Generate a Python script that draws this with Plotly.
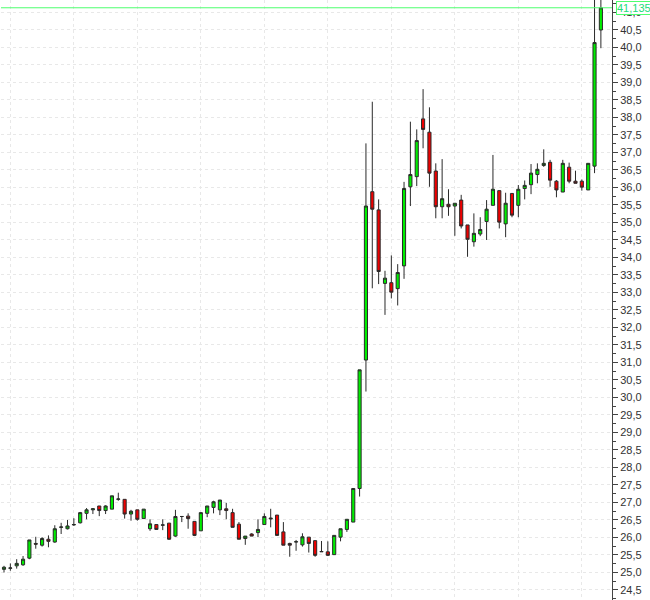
"""
plot.py
-------
Daily candlestick chart with the last price marked on the right axis.
"""

import plotly.graph_objects as go

# session index (one candle per trading day)
session = list(range(1, 96))

open_ = [
    25.09, 25.12, 25.19, 25.22, 25.41, 25.83, 25.78, 25.95, 25.87, 26.29,
    26.25, 26.36, 26.42, 26.69, 26.79, 26.90, 26.77, 26.81, 27.09, 27.09,
    26.67, 26.79, 26.54, 26.25, 26.37, 26.35, 26.41, 26.04, 26.60, 26.61,
    26.46, 26.19, 26.69, 26.86, 26.79, 26.82, 26.71, 26.38, 25.97, 26.10,
    26.14, 26.37, 26.53, 26.64, 26.16, 25.83, 25.87, 25.79, 26.01, 25.91,
    25.59, 25.59, 25.51, 26.01, 26.23, 26.44, 27.40, 31.07, 35.88, 35.36,
    33.26, 33.28, 33.11, 33.76, 36.02, 36.31, 37.96, 37.58, 36.47, 35.45,
    35.52, 35.47, 35.64, 34.93, 34.45, 34.67, 35.03, 35.49, 35.91, 34.96,
    35.83, 35.49, 35.97, 36.08, 36.37, 36.63, 36.72, 36.18, 35.87, 36.58,
    36.18, 36.18, 35.93, 36.61, 40.50,
]
high = [
    25.19, 25.26, 25.38, 25.47, 25.93, 26.02, 26.01, 26.06, 26.35, 26.42,
    26.50, 26.55, 26.73, 26.84, 26.84, 26.90, 26.92, 27.19, 27.28, 27.09,
    26.79, 26.79, 26.81, 26.52, 26.37, 26.52, 26.41, 26.79, 26.61, 26.69,
    26.46, 26.71, 26.90, 27.05, 27.07, 26.99, 26.82, 26.44, 26.04, 26.12,
    26.52, 26.69, 26.82, 26.64, 26.44, 25.85, 25.93, 26.12, 26.01, 25.91,
    25.90, 25.89, 26.06, 26.25, 26.52, 27.40, 30.79, 37.26, 38.45, 35.66,
    33.62, 34.06, 33.81, 36.16, 37.88, 37.66, 38.81, 38.29, 36.69, 36.81,
    35.95, 35.55, 35.79, 34.93, 35.26, 35.15, 35.64, 36.93, 35.91, 35.85,
    35.83, 36.07, 36.20, 36.67, 36.69, 37.09, 36.79, 36.21, 36.79, 36.71,
    36.48, 36.23, 36.69, 41.50, 41.50,
]
low = [
    25.00, 25.05, 25.11, 25.19, 25.38, 25.68, 25.74, 25.72, 25.85, 26.10,
    26.23, 26.33, 26.40, 26.52, 26.67, 26.61, 26.67, 26.81, 27.05, 26.54,
    26.48, 26.48, 26.54, 26.19, 26.23, 26.21, 25.93, 26.02, 26.44, 26.25,
    26.04, 26.19, 26.58, 26.69, 26.64, 26.52, 26.29, 25.95, 25.79, 26.04,
    26.01, 26.37, 26.29, 26.06, 25.78, 25.45, 25.62, 25.74, 25.57, 25.45,
    25.59, 25.47, 25.51, 25.89, 26.16, 26.44, 27.17, 30.17, 33.12, 33.24,
    32.36, 32.83, 32.63, 33.39, 35.47, 36.04, 37.12, 36.02, 35.12, 35.12,
    35.19, 34.62, 34.83, 34.02, 34.31, 34.61, 34.50, 35.49, 34.83, 34.58,
    35.15, 35.15, 35.66, 35.81, 36.12, 36.59, 36.02, 35.72, 35.87, 36.12,
    36.12, 35.91, 35.93, 36.41, 39.98,
]
close = [
    25.15, 25.13, 25.26, 25.38, 25.93, 25.81, 25.97, 25.89, 26.25, 26.30,
    26.33, 26.37, 26.71, 26.79, 26.82, 26.77, 26.90, 27.19, 27.10, 26.67,
    26.75, 26.52, 26.81, 26.39, 26.23, 26.36, 25.95, 26.60, 26.60, 26.54,
    26.06, 26.71, 26.90, 27.02, 27.07, 26.77, 26.29, 25.95, 26.04, 26.04,
    26.23, 26.60, 26.55, 26.06, 25.78, 25.78, 25.88, 26.02, 25.83, 25.49,
    25.60, 25.49, 26.06, 26.25, 26.52, 27.40, 30.79, 35.47, 35.38, 33.60,
    33.41, 33.01, 33.57, 35.97, 36.37, 37.34, 37.66, 36.41, 35.45, 35.68,
    35.45, 35.55, 34.90, 34.52, 34.69, 34.80, 35.38, 35.95, 35.01, 35.55,
    35.21, 35.95, 36.06, 36.41, 36.52, 36.69, 36.21, 35.93, 36.69, 36.18,
    36.12, 36.01, 36.69, 40.14, 41.135,
]

# trading-day gridline positions
grid_sessions = [2, 12, 22, 32, 42, 52, 62, 72, 82, 92]

Y_MIN, Y_MAX = 24.214, 41.357
LAST_COLOR = "#4dff6e"
LAST_TEXT = "#22dd77"
GRID = "#e8e8e8"
AXIS = "#444444"

fig = go.Figure(go.Candlestick(
    x=session,
    open=open_,
    high=high,
    low=low,
    close=close,
    increasing=dict(fillcolor="#00ee00", line=dict(color="#2a2a2a", width=1)),
    decreasing=dict(fillcolor="#ee0000", line=dict(color="#2a2a2a", width=1)),
))

# last price line + label box on the axis
last = close[-1]
fig.add_hline(y=last, line=dict(color=LAST_COLOR, width=1))
fig.add_annotation(
    xref="paper", yref="y", x=1, y=last,
    xanchor="left", yanchor="middle", xshift=4,
    text=f"{last:.3f}".replace(".", ","),
    showarrow=False,
    font=dict(family="Liberation Sans", size=11, color=LAST_TEXT),
    bgcolor="white", bordercolor=LAST_COLOR, borderwidth=1, borderpad=0,
)

fig.update_layout(
    width=650,
    height=600,
    margin=dict(l=1, r=38, t=0, b=0),
    paper_bgcolor="white",
    plot_bgcolor="white",
    showlegend=False,
    separators=",.",
    font=dict(family="Liberation Sans", size=11, color="#333333"),
    xaxis=dict(
        range=[0.528, 96.75],
        rangeslider=dict(visible=False),
        tickvals=grid_sessions,
        showticklabels=False,
        ticks="",
        showgrid=True,
        gridcolor=GRID,
        griddash="3px,3px",
        zeroline=False,
        showline=False,
    ),
    yaxis=dict(
        side="right",
        range=[Y_MIN, Y_MAX],
        dtick=0.5,
        tick0=0,
        tickformat=".1f",
        ticks="outside",
        ticklen=5,
        tickcolor=AXIS,
        showline=True,
        linecolor=AXIS,
        linewidth=1,
        showgrid=True,
        gridcolor=GRID,
        griddash="3px,3px",
        zeroline=False,
        minor=dict(dtick=0.25, ticks="outside", ticklen=3, tickcolor=AXIS, showgrid=False),
    ),
    yaxis2=dict(
        overlaying="y",
        side="left",
        range=[Y_MIN, Y_MAX],
        dtick=0.25,
        tick0=0,
        ticks="inside",
        ticklen=3,
        tickcolor=AXIS,
        showticklabels=False,
        showline=True,
        linecolor=AXIS,
        showgrid=False,
        zeroline=False,
    ),
)

# drop the default page margin so the chart sits at the window's corner
fig.write_html(
    "out.html",
    config={"displayModeBar": False},
    post_script="document.body.style.margin='0';",
)
